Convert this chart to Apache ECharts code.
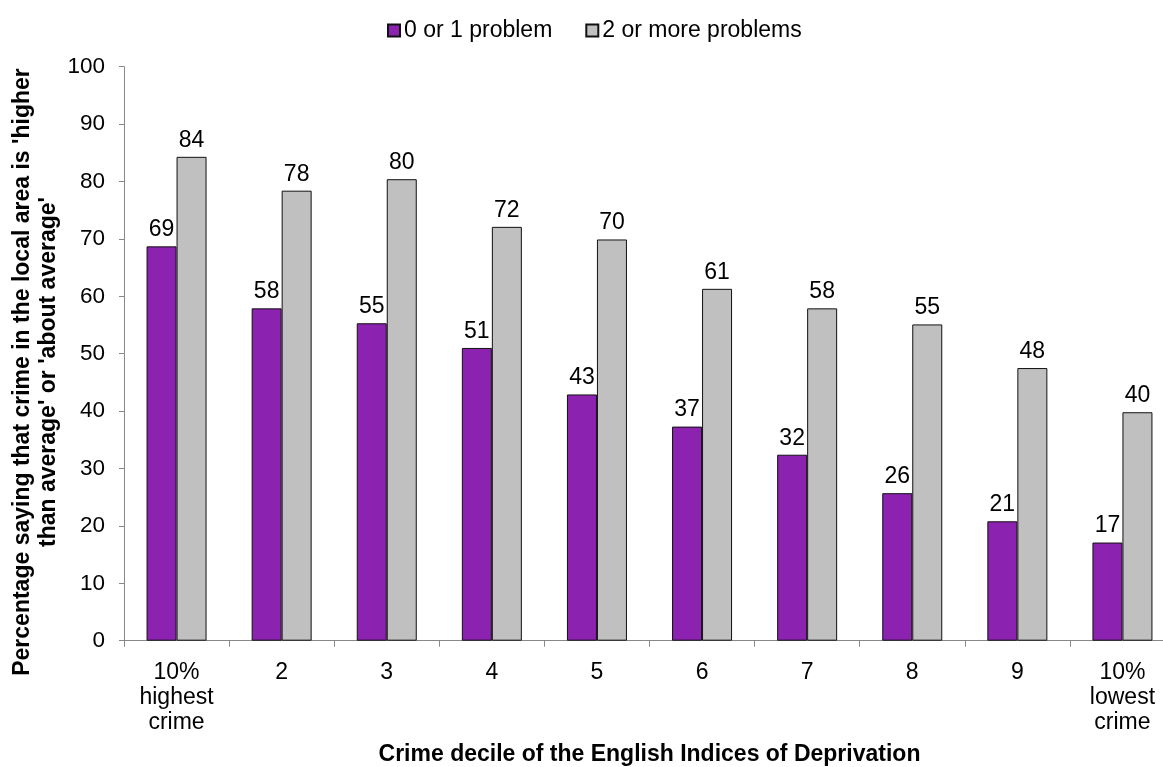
<!DOCTYPE html>
<html>
<head>
<meta charset="utf-8">
<script src="https://cdn.jsdelivr.net/npm/echarts@6/dist/echarts.min.js"></script>
<style>
  html, body { margin: 0; padding: 0; background: #fff; overflow: hidden; }
  #chart { width: 1163px; height: 767px; }
</style>
</head>
<body>
<div id="chart"></div>
<script>
const categories = ['10%\nhighest\ncrime', '2', '3', '4', '5', '6', '7', '8', '9', '10%\nlowest\ncrime'];
const seriesNames = ['0 or 1 problem', '2 or more problems'];
const lowProblems = [68.7, 57.9, 55.3, 51.0, 42.9, 37.3, 32.4, 25.7, 20.8, 17.1];
const highProblems = [84.3, 78.4, 80.4, 72.1, 69.9, 61.3, 57.9, 55.1, 47.5, 39.8];
const yTicks = [0, 10, 20, 30, 40, 50, 60, 70, 80, 90, 100];
const xTitle = 'Crime decile of the English Indices of Deprivation';
const yTitle = "Percentage saying that crime in the local area is 'higher\nthan average' or 'about average'";

const font = 'Liberation Sans, Arial, sans-serif';
const chart = echarts.init(document.getElementById('chart'), null, { renderer: 'canvas' });

const labelStyle = {
  show: true,
  position: 'top',
  distance: 5,
  color: '#000',
  fontFamily: font,
  fontSize: 23,
  formatter: p => Math.round(p.value)
};

chart.setOption({
  animation: false,
  backgroundColor: '#fff',
  legend: {
    top: 14,
    left: 382,
    itemWidth: 12,
    itemHeight: 12,
    itemGap: 33,
    icon: 'rect',
    textStyle: { fontFamily: font, fontSize: 23, color: '#000', padding: [0, 0, 0, -1] },
    data: seriesNames
  },
  grid: { left: 124, top: 66.7, height: 574, right: -12, containLabel: false, outerBoundsMode: 'none' },
  xAxis: {
    type: 'category',
    data: categories,
    name: xTitle,
    nameLocation: 'middle',
    nameGap: 102,
    nameTextStyle: { color: '#000', fontFamily: font, fontSize: 23, fontWeight: 'bold' },
    axisLine: { lineStyle: { color: '#888', width: 1 } },
    axisTick: { show: true, length: 6, lineStyle: { color: '#888' } },
    axisLabel: { color: '#000', fontFamily: font, fontSize: 23, lineHeight: 25, margin: 19, interval: 0 }
  },
  yAxis: {
    type: 'value',
    min: yTicks[0],
    max: yTicks[yTicks.length - 1],
    interval: yTicks[1] - yTicks[0],
    splitLine: { show: false },
    axisLine: { show: true, lineStyle: { color: '#888', width: 1 } },
    axisTick: { show: true, length: 5, lineStyle: { color: '#888' } },
    axisLabel: { color: '#000', fontFamily: font, fontSize: 22.5, margin: 19 }
  },
  graphic: [
    {
      type: 'text',
      x: 36,
      y: 372,
      rotation: Math.PI / 2,
      style: {
        text: yTitle,
        fill: '#000',
        font: 'bold 23px ' + font,
        align: 'center',
        verticalAlign: 'middle',
        lineHeight: 26
      }
    }
  ],
  series: [
    {
      name: seriesNames[0],
      type: 'bar',
      data: lowProblems,
      barWidth: 30,
      barGap: '0%',
      itemStyle: { color: '#8B22B0', borderColor: '#111', borderWidth: 1 },
      label: labelStyle
    },
    {
      name: seriesNames[1],
      type: 'bar',
      data: highProblems,
      barWidth: 30,
      barGap: '0%',
      itemStyle: { color: '#C0C0C0', borderColor: '#111', borderWidth: 1 },
      label: labelStyle
    }
  ]
});
</script>
</body>
</html>
